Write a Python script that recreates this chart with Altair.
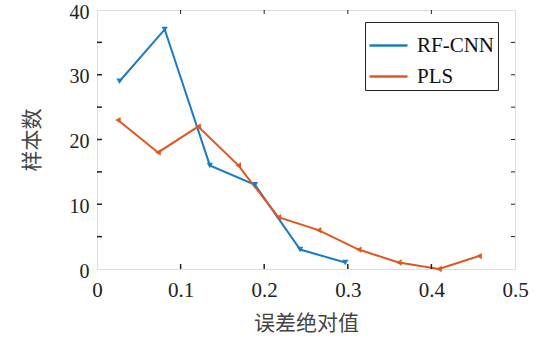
import altair as alt
import pandas as pd

rf_x = [0.027, 0.081, 0.135, 0.189, 0.243, 0.297]
rf_y = [29, 37, 16, 13, 3, 1]
pls_x = [0.025, 0.073, 0.121, 0.169, 0.217, 0.265, 0.313, 0.361, 0.409, 0.457]
pls_y = [23, 18, 22, 16, 8, 6, 3, 1, 0, 2]
series_names = ["RF-CNN", "PLS"]
colors = ["#1a7cc1", "#e0571f"]
marker_shapes = ["triangle-down", "triangle-left"]
x_ticks = [0.1, 0.2, 0.3, 0.4]
y_ticks = [5, 10, 15, 20, 25, 30, 35]
x_labels = [0, 0.1, 0.2, 0.3, 0.4, 0.5]
y_labels = [0, 10, 20, 30, 40]

df = pd.concat([
    pd.DataFrame({"x": rf_x, "y": rf_y, "s": series_names[0]}),
    pd.DataFrame({"x": pls_x, "y": pls_y, "s": series_names[1]}),
])
W, H = 418, 259
serif = "Liberation Serif"
cjk = "Noto Sans CJK SC"

xs = alt.Scale(domain=[0, 0.5], nice=False)
ys = alt.Scale(domain=[0, 40], nice=False)
cs = alt.Scale(domain=series_names, range=colors)

X = alt.X("x:Q", scale=xs, axis=alt.Axis(
    title="误差绝对值", values=x_labels, format="~g", ticks=False, domain=False, grid=False,
    labelFont=serif, labelFontSize=21, labelColor="#222", labelPadding=10,
    titleFont=cjk, titleFontSize=21, titleFontWeight="normal", titleColor="#444", titlePadding=12,
    labelFlush=False))
Y = alt.Y("y:Q", scale=ys, axis=alt.Axis(
    title="样本数", values=y_labels, ticks=False, domain=False, grid=False,
    labelFont=serif, labelFontSize=20, labelColor="#222", labelPadding=8, labelOffset=2,
    titleFont=cjk, titleFontSize=21, titleFontWeight="normal", titleColor="#444", titlePadding=27,
    labelFlush=False))

lines = alt.Chart(df).mark_line(strokeWidth=2).encode(
    x=X, y=Y,
    color=alt.Color("s:N", scale=cs, sort=series_names, legend=alt.Legend(
        title=None, orient="none", legendX=268, legendY=12,
        symbolType="stroke", symbolSize=1444, symbolStrokeWidth=2.5,
        labelFont=serif, labelFontSize=21, labelColor="#111",
        strokeColor="#222", padding=3, rowPadding=-19, labelOffset=8)),
    detail="s:N")

pt_layers = []
for name, shp in zip(series_names, marker_shapes):
    pt_layers.append(
        alt.Chart(df).transform_filter(alt.datum.s == name)
        .mark_point(filled=True, size=40, opacity=1, shape=shp)
        .encode(x="x:Q", y="y:Q", color=alt.Color("s:N", scale=cs, legend=None))
    )

xt = alt.Chart(pd.DataFrame({"v": x_ticks})).mark_rule(color="#222", strokeWidth=1.5).encode(
    x=alt.X("v:Q", scale=xs), y=alt.value(H), y2=alt.value(H - 5))
xt_top = alt.Chart(pd.DataFrame({"v": x_ticks})).mark_rule(color="#222", strokeWidth=1).encode(
    x=alt.X("v:Q", scale=xs), y=alt.value(0), y2=alt.value(4))
yt = alt.Chart(pd.DataFrame({"v": y_ticks})).mark_rule(color="#222", strokeWidth=1.5).encode(
    y=alt.Y("v:Q", scale=ys), x=alt.value(0), x2=alt.value(5))
yt_r = alt.Chart(pd.DataFrame({"v": y_ticks})).mark_rule(color="#222", strokeWidth=1).encode(
    y=alt.Y("v:Q", scale=ys), x=alt.value(W), x2=alt.value(W - 4))

chart = alt.layer(lines, *pt_layers, xt, xt_top, yt, yt_r).properties(
    width=W, height=H, autosize=alt.AutoSizeParams(type="none"),
    padding={"left": 97, "top": 10, "right": 24, "bottom": 72},
).configure_view(stroke="#222", strokeWidth=2.5).configure(background="white")

chart.save("out.html", embed_options={"renderer": "svg", "actions": False})
